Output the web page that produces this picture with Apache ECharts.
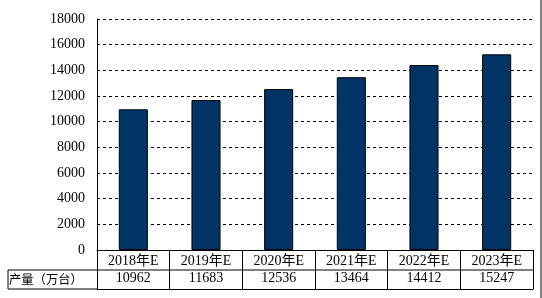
<!DOCTYPE html>
<html><head><meta charset="utf-8">
<script src="https://cdn.jsdelivr.net/npm/echarts@6/dist/echarts.min.js"></script>
<style>html,body{margin:0;padding:0;background:#fff}#c{width:542px;height:298px}</style>
</head><body><div id="c"></div>
<script>
const categories = ['2018年E','2019年E','2020年E','2021年E','2022年E','2023年E'];
const production = [10962, 11683, 12536, 13464, 14412, 15247];
const rowLabel = '产量（万台）';
const yMin = 0, yMax = 18000, yStep = 2000;

const FONT = "'Liberation Serif','Noto Sans CJK SC',serif";
const chart = echarts.init(document.getElementById('c'));
chart.setOption({
  animation: false,
  backgroundColor: '#fff',
  grid: [
    {left: 97, right: 9, top: 19, bottom: 48},
    {left: 97, right: 9, top: 250, height: 39}
  ],
  xAxis: [
    {gridIndex: 0, type: 'category', data: categories,
     axisLine: {show: true, lineStyle: {color: '#000', width: 1}},
     axisTick: {show: false},
     axisLabel: {color: '#000', fontFamily: FONT, fontSize: 14, margin: 4}},
    {gridIndex: 1, type: 'category', data: categories,
     axisLine: {show: true, lineStyle: {color: '#000', width: 1}},
     axisTick: {show: false},
     splitLine: {show: true, lineStyle: {color: '#000', width: 1}},
     axisLabel: {inside: true, margin: 4, color: '#000', fontFamily: FONT, fontSize: 14,
       formatter: (v, i) => String(production[i])}}
  ],
  yAxis: [
    {gridIndex: 0, type: 'value', min: yMin, max: yMax, interval: yStep,
     axisLine: {show: true, lineStyle: {color: '#000', width: 1}},
     axisTick: {show: false},
     splitLine: {show: true, lineStyle: {color: '#000', type: [3, 3], width: 1}},
     axisLabel: {color: '#000', fontFamily: FONT, fontSize: 14, margin: 12,
       formatter: v => String(v)}},
    {gridIndex: 1, type: 'value', show: false}
  ],
  series: [
    {type: 'bar', xAxisIndex: 0, yAxisIndex: 0, data: production, barWidth: '40%',
     itemStyle: {color: '#003366', borderColor: '#000', borderWidth: 1}}
  ],
  graphic: [
    {type: 'line', shape: {x1: 8, y1: 270, x2: 533, y2: 270}, style: {stroke: '#000', lineWidth: 1}},
    {type: 'line', shape: {x1: 8, y1: 289, x2: 97, y2: 289}, style: {stroke: '#000', lineWidth: 1}},
    {type: 'line', shape: {x1: 8, y1: 270, x2: 8, y2: 289}, style: {stroke: '#000', lineWidth: 1}},
    {type: 'line', shape: {x1: 541, y1: 0, x2: 541, y2: 298}, style: {stroke: '#000', lineWidth: 1}},
    {type: 'text', left: 9, top: 273, style: {text: rowLabel, fill: '#000', font: "12.3px 'Noto Sans CJK SC'"}}
  ]
});
</script></body></html>
